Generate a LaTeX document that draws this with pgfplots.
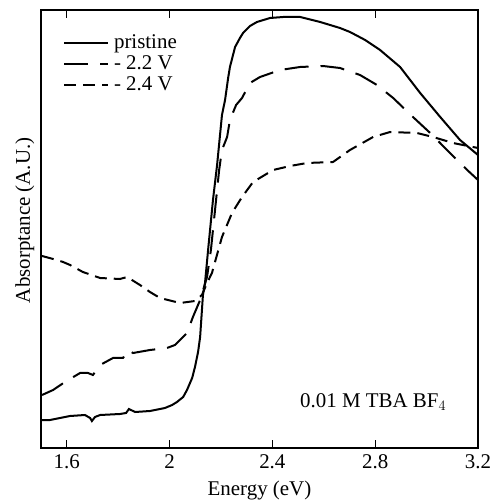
\documentclass[border=0pt]{standalone}
\usepackage{pgfplots}
\pgfplotsset{compat=1.18}
\usepackage{fontspec}
\setmainfont{Liberation Serif}
\begin{document}
\begin{tikzpicture}[font=\fontsize{21}{23}\selectfont]
\path[use as bounding box] (-41bp,-54bp) rectangle (451bp,448bp);
\begin{axis}[
  scale only axis,
  width=437bp, height=438bp,
  xmin=1.5, xmax=3.2, ymin=0, ymax=438,
  xtick={1.6,2,2.4,2.8,3.2},
  xticklabels={1.6,2,2.4,2.8,3.2},
  ytick=\empty,
  tick align=inside,
  major tick length=8bp,
  xtick pos=both,
  axis line style={line width=1.4bp},
  every tick/.style={line width=1.2bp, black},
  /pgf/number format/assume math mode=true,
  tick label style={font=\fontsize{21}{23}\selectfont},
  xticklabel style={yshift=-3bp},
  xlabel={Energy (eV)},
  ylabel={Absorptance (A.U.)},
  xlabel style={at={(axis description cs:0.5,0)}, anchor=center, yshift=-42bp},
  ylabel style={at={(axis description cs:-0.037,0.52)}, anchor=center},
  legend style={at={(0.050,0.946)}, anchor=north west, draw=none, fill=none,
    inner sep=0pt, row sep=2bp, column sep=5bp, font=\fontsize{21}{23}\selectfont,
    nodes={inner sep=0pt, text height=15bp, text depth=4bp}},
  legend cell align=left,
  legend image code/.code={\draw[#1] (0bp,0bp) -- (44bp,0bp);},
  clip=false,
]
\addplot[black, line width=2bp] coordinates {
(1.504,28) (1.535,28) (1.574,30) (1.613,32) (1.671,33) (1.691,30) (1.698,27) (1.710,31)
(1.730,33) (1.807,34) (1.831,35) (1.842,39) (1.866,36) (1.924,37) (1.982,40) (2.010,43)
(2.029,46) (2.053,51) (2.068,58) (2.088,70) (2.099,81) (2.111,96) (2.119,111) (2.130,153)
(2.138,165) (2.150,198) (2.169,248) (2.185,283) (2.204,333) (2.216,348) (2.228,370)
(2.235,381) (2.255,401) (2.274,410) (2.286,415) (2.313,422) (2.340,426) (2.391,430)
(2.442,431) (2.508,431) (2.586,426) (2.663,420) (2.702,416) (2.761,408) (2.819,398)
(2.897,381) (2.975,355) (3.053,331) (3.130,308) (3.200,293)
};
\addlegendentry{pristine}
\addplot[black, line width=2bp, dash pattern=on 24bp off 12bp] coordinates {
(1.504,53) (1.547,58) (1.593,66) (1.652,75) (1.683,75) (1.702,73) (1.730,83) (1.780,90)
(1.819,90) (1.839,98) (1.858,95) (1.924,98) (1.990,100) (2.021,103) (2.068,115)
(2.091,131) (2.119,148) (2.146,171) (2.161,198) (2.177,238) (2.193,278) (2.204,298)
(2.224,311) (2.235,328) (2.259,343) (2.282,350) (2.313,365) (2.352,371) (2.430,378)
(2.508,381) (2.597,382) (2.663,380) (2.741,373) (2.807,363) (2.870,350) (2.947,331)
(3.014,315) (3.091,295) (3.158,278) (3.200,268)
};
\addlegendentry{- 2.2 V}
\addplot[black, line width=2bp, dash pattern=on 12bp off 7bp] coordinates {
(1.504,192) (1.562,188) (1.586,186) (1.613,183) (1.663,176) (1.730,170) (1.807,169)
(1.835,171) (1.885,163) (1.924,156) (1.963,150) (2.041,145) (2.099,147) (2.126,153)
(2.146,165) (2.165,175) (2.204,211) (2.243,235) (2.282,251) (2.325,266) (2.403,278)
(2.469,282) (2.535,285) (2.636,286) (2.702,298) (2.792,311) (2.858,316) (2.963,315)
(3.025,311) (3.103,305) (3.200,300)
};
\addlegendentry{- 2.4 V}
\node[anchor=base] at (axis cs:2.792,41) {0.01 M TBA BF$_4$};
\end{axis}
\end{tikzpicture}
\end{document}
